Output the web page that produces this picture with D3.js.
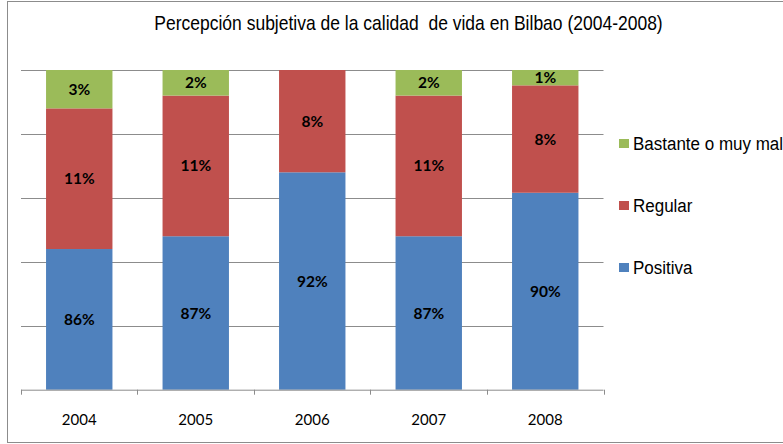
<!DOCTYPE html>
<html>
<head>
<meta charset="utf-8">
<script src="https://cdn.jsdelivr.net/npm/d3@7"></script>
<style>
  html, body { margin: 0; padding: 0; background: #fff; }
  svg { display: block; }
</style>
</head>
<body>
<svg id="chart" width="783" height="444"></svg>
<script>
// Survey results: perceived quality of life in Bilbao
const years = ["2004", "2005", "2006", "2007", "2008"];
const positiva = [86, 87, 92, 87, 90.4];
const regular = [11, 11, 8, 11, 8.4];
const malo = [3, 2, 0, 2, 1.2];
const seriesKeys = ["positiva", "regular", "malo"];
const seriesNames = ["Positiva", "Regular", "Bastante o muy mal"];
const seriesColors = ["#4F81BD", "#C0504D", "#9BBB59"];
const yTicks = [75, 80, 85, 90, 95, 100];
const titleText = "Percepción subjetiva de la calidad  de vida en Bilbao (2004-2008)";

const rows = years.map((y, i) => ({ year: y, positiva: positiva[i], regular: regular[i], malo: malo[i] }));

const svg = d3.select("#chart");

// outer chart frame
svg.append("rect")
  .attr("x", 7.5).attr("y", 1.5)
  .attr("width", 800).attr("height", 441)
  .attr("fill", "none").attr("stroke", "#8c8c8c").attr("stroke-width", 1);

const plot = { left: 21, right: 603.5, top: 70, bottom: 389.7 };

const x = d3.scaleBand()
  .domain(years)
  .range([plot.left, plot.right])
  .paddingInner(0.43)
  .paddingOuter(0.215);

const y = d3.scaleLinear()
  .domain([yTicks[0], yTicks[yTicks.length - 1]])
  .range([plot.bottom, plot.top]);

// horizontal gridlines
svg.append("g")
  .selectAll("line")
  .data(yTicks.slice(1))
  .join("line")
  .attr("x1", plot.left).attr("x2", plot.right)
  .attr("y1", d => Math.round(y(d)) + 0.5)
  .attr("y2", d => Math.round(y(d)) + 0.5)
  .attr("stroke", "#8c8c8c").attr("stroke-width", 1);

// stacked bars
const stacked = d3.stack().keys(seriesKeys)(rows);

const layers = svg.append("g")
  .selectAll("g")
  .data(stacked)
  .join("g")
  .attr("fill", (d, i) => seriesColors[i]);

layers.selectAll("rect")
  .data(d => d.filter(s => s[1] - s[0] > 0))
  .join("rect")
  .attr("x", d => x(d.data.year))
  .attr("width", x.bandwidth())
  .attr("y", d => y(d[1]))
  .attr("height", d => y(Math.max(d[0], yTicks[0])) - y(d[1]));

// value labels centred in each segment
layers.selectAll("text")
  .data((d) => d.filter(s => s[1] - s[0] > 0).map(s => ({ s, key: d.key })))
  .join("text")
  .attr("x", d => x(d.s.data.year) + x.bandwidth() / 2)
  .attr("y", d => (y(Math.max(d.s[0], yTicks[0])) + y(d.s[1])) / 2)
  .attr("dy", "0.36em")
  .attr("text-anchor", "middle")
  .attr("fill", "#000")
  .style("font-family", "Lato, 'Open Sans', sans-serif")
  .style("font-weight", "bold")
  .style("font-size", "15.5px")
  .text(d => Math.round(d.s.data[d.key]) + "%");

// category axis
const axis = svg.append("g").attr("transform", `translate(0,${plot.bottom})`);
axis.append("line")
  .attr("x1", plot.left).attr("x2", plot.right)
  .attr("y1", 0.5).attr("y2", 0.5)
  .attr("stroke", "#8c8c8c");
const bounds = years.map(yr => x(yr) - x.step() * x.paddingInner() / 2);
bounds.push(plot.right);
axis.selectAll("line.tick")
  .data(bounds)
  .join("line")
  .attr("class", "tick")
  .attr("x1", d => Math.round(d) + 0.5).attr("x2", d => Math.round(d) + 0.5)
  .attr("y1", 0).attr("y2", 5)
  .attr("stroke", "#8c8c8c");
axis.selectAll("text")
  .data(years)
  .join("text")
  .attr("x", d => x(d) + x.bandwidth() / 2)
  .attr("y", 30)
  .attr("dy", "0.36em")
  .attr("text-anchor", "middle")
  .attr("fill", "#000")
  .style("font-family", "Lato, 'Open Sans', sans-serif")
  .style("font-size", "15px")
  .text(d => d);

// title
svg.append("text")
  .attr("transform", "translate(408.5,30) scale(1,1.12)")
  .attr("text-anchor", "middle")
  .attr("fill", "#000")
  .style("font-family", "'Liberation Sans', Arial, sans-serif")
  .style("font-size", "17.5px")
  .style("white-space", "pre")
  .text(titleText);

// legend (top entry is the top segment)
const legendOrder = [2, 1, 0];
const legendY = [143.5, 205.5, 267.5];
const legend = svg.append("g");
legendOrder.forEach((si, k) => {
  const cy = legendY[k];
  legend.append("rect")
    .attr("x", 619).attr("y", cy - 4.5)
    .attr("width", 10).attr("height", 9)
    .attr("fill", seriesColors[si]);
  legend.append("text")
    .attr("transform", `translate(633,${cy + 6}) scale(1,1.06)`)
    .attr("fill", "#000")
    .style("font-family", "'Liberation Sans', Arial, sans-serif")
    .style("font-size", "17px")
    .text(seriesNames[si]);
});
</script>
</body>
</html>
